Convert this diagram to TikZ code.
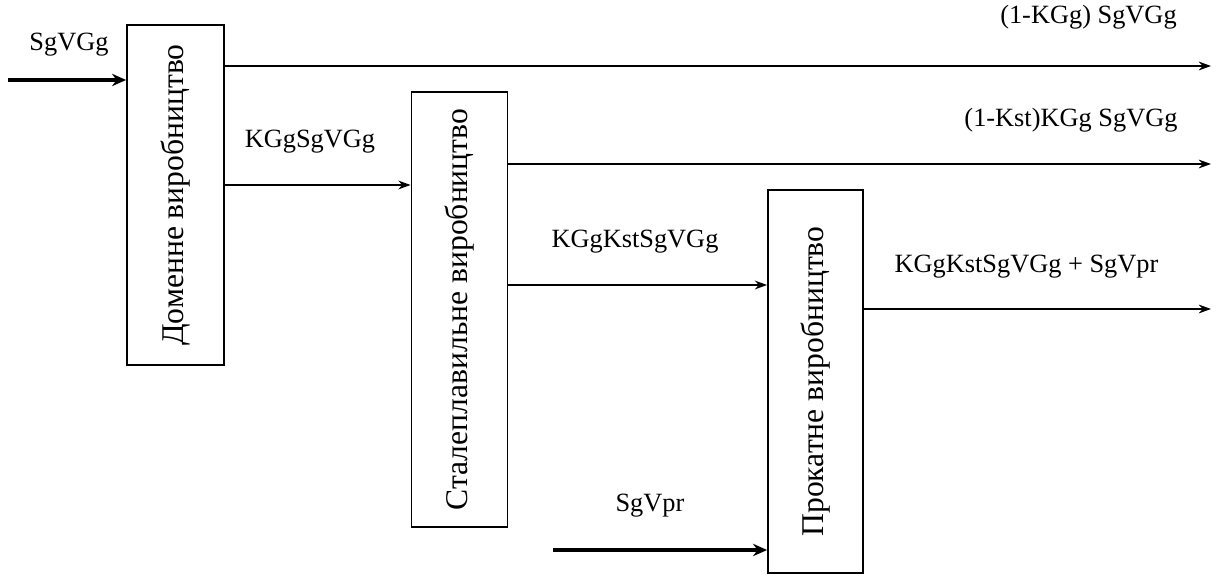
\documentclass[tikz,border=0pt]{standalone}
\usepackage{fontspec}
\setmainfont{Liberation Serif}
\usetikzlibrary{arrows.meta}

\begin{document}
\begin{tikzpicture}[line width=0.9pt,>={Stealth[length=7pt,width=5pt]},
  stage/.style={draw,line width=1pt,inner sep=0pt,font=\fontsize{18}{20}\selectfont},
  flow/.style={->,line width=0.9pt},
  feed/.style={->,line width=2.6pt,>={Stealth[length=8pt,width=7pt]}},
  lbl/.style={font=\fontsize{15}{17}\selectfont,inner sep=0pt}]
\useasboundingbox (0,0) rectangle (24.32,-11.5);
% ---------- ступені виробництва ----------
\node[stage,minimum width=1.94cm,minimum height=6.80cm] (dom) at (3.51,-3.90) {\rotatebox{90}{Доменне виробництво}};
\node[stage,minimum width=1.92cm,minimum height=8.70cm] (stl) at (9.19,-6.19) {\rotatebox{90}{Сталеплавильне виробництво}};
\node[stage,minimum width=1.90cm,minimum height=7.66cm] (prk) at (16.31,-7.63) {\rotatebox{90}{Прокатне виробництво}};
% ---------- вхідні потоки ----------
\coordinate (in1) at (0.16,-1.60);
\coordinate (in2) at (11.06,-11.00);
\draw[feed] (in1) -- (in1 -| dom.west);
\draw[feed] (in2) -- (in2 -| prk.west);
\node[lbl] (lin1) at (1.38,-0.90) {SgVGg};
\node[lbl] (lin2) at (13.00,-10.12) {SgVpr};
% ---------- вихідні потоки ----------
\coordinate (out1) at (24.22,-1.32);
\coordinate (out2) at (24.22,-3.28);
\coordinate (out3) at (24.22,-6.18);
\draw[flow] (out1 -| dom.east) -- (out1);
\draw[flow] (out2 -| stl.east) -- (out2);
\draw[flow] (out3 -| prk.east) -- (out3);
\node[lbl] (lout1) at (21.77,-0.34) {(1-KGg) SgVGg};
\node[lbl] (lout2) at (21.42,-2.40) {(1-Kst)KGg SgVGg};
\node[lbl] (lout3) at (20.53,-5.34) {KGgKstSgVGg + SgVpr};
% ---------- передача між ступенями ----------
\coordinate (m1) at (0,-3.70);
\coordinate (m2) at (0,-5.70);
\draw[flow] (m1 -| dom.east) -- (m1 -| stl.west);
\draw[flow] (m2 -| stl.east) -- (m2 -| prk.west);
\node[lbl] (lm1) at (6.20,-2.84) {KGgSgVGg};
\node[lbl] (lm2) at (12.70,-4.84) {KGgKstSgVGg};
\end{tikzpicture}
\end{document}
